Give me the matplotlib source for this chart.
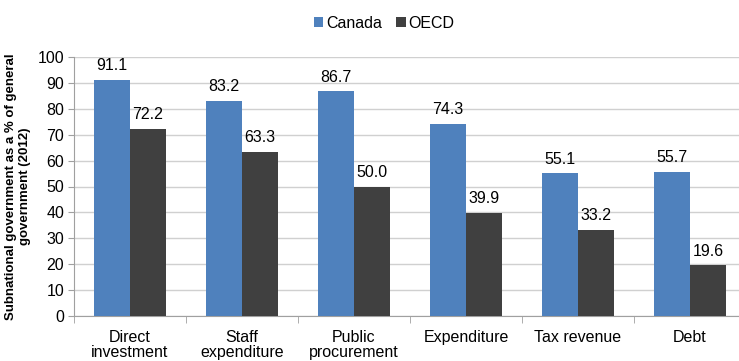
import matplotlib
matplotlib.use("Agg")
import matplotlib.pyplot as plt
import numpy as np

plt.rcParams['font.family'] = ['Liberation Sans', 'DejaVu Sans']

categories = ["Direct\ninvestment", "Staff\nexpenditure", "Public\nprocurement",
              "Expenditure", "Tax revenue", "Debt"]
canada = [91.1, 83.2, 86.7, 74.3, 55.1, 55.7]
oecd = [72.2, 63.3, 50.0, 39.9, 33.2, 19.6]
series_names = ["Canada", "OECD"]
colors = ["#4F81BD", "#404040"]

fig = plt.figure(figsize=(7.39, 3.61), dpi=100)
ax = fig.add_axes([74/739, 45/361, 672/739, 259/361])

x = np.arange(len(categories))
w = 0.32
b1 = ax.bar(x - w/2, canada, w, color=colors[0], label=series_names[0], zorder=3)
b2 = ax.bar(x + w/2, oecd, w, color=colors[1], label=series_names[1], zorder=3)

for bars, vals in ((b1, canada), (b2, oecd)):
    for r, v in zip(bars, vals):
        ax.text(r.get_x() + r.get_width()/2, v + 2.6, f"{v:.1f}", ha='center', va='bottom',
                fontsize=11.5, color='#000000')

ax.set_xlim(-0.5, len(categories) - 0.5)
ax.set_ylim(0, 100)
ax.set_yticks(np.arange(0, 101, 10))
ax.yaxis.grid(True, color='#D0D0D0', linewidth=1, zorder=0)
ax.set_axisbelow(True)

ax.set_xticks(x)
ax.set_xticklabels(categories, fontsize=11.5, linespacing=1.0)
ax.tick_params(axis='x', length=0, pad=10)
ax.set_xticks(np.arange(-0.5, len(categories) + 0.5, 1), minor=True)
ax.tick_params(axis='x', which='minor', length=5, color='#A0A0A0')
ax.tick_params(axis='y', labelsize=11.5, length=4, color='#A0A0A0', pad=3)

for s in ('top', 'right'):
    ax.spines[s].set_visible(False)
for s in ('left', 'bottom'):
    ax.spines[s].set_color('#A0A0A0')

ax.set_ylabel("Subnational government as a % of general\ngovernment (2012)",
              fontsize=9.5, fontweight='bold', labelpad=5, linespacing=1.15)

fig.legend(handles=[b1, b2], labels=series_names, loc='center', bbox_to_anchor=(384/739, 1 - 23/361),
           ncol=2, frameon=False, fontsize=11.5, handlelength=0.6, handleheight=0.6,
           handletextpad=0.15, columnspacing=0.9)

fig.savefig("out.png", dpi=100)
